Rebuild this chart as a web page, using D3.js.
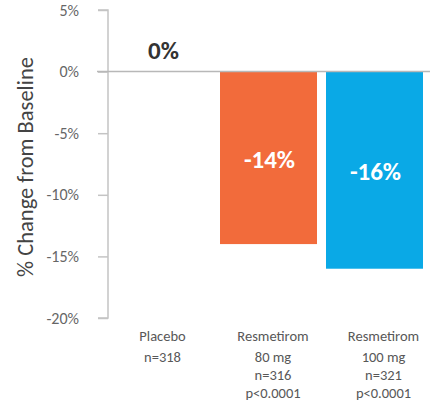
<!DOCTYPE html>
<html>
<head>
<meta charset="utf-8">
<script src="https://cdn.jsdelivr.net/npm/d3@7"></script>
<style>
  html, body { margin: 0; padding: 0; background: #fff; }
  svg { display: block; font-family: Carlito, Lato, "Open Sans", sans-serif; }
</style>
</head>
<body>
<svg id="chart" width="437" height="412"></svg>
<script>
// Groups, their values (% change from baseline) and the lines printed under each bar
const groups = ["Placebo", "Resmetirom 80 mg", "Resmetirom 100 mg"];
const values = [0, -14, -16];
const valueLabels = ["0%", "-14%", "-16%"];
const barColors = ["#ffffff", "#f26b3b", "#0aa9e6"];
const groupLines = [
  ["Placebo", "n=318"],
  ["Resmetirom", "80 mg", "n=316", "p<0.0001"],
  ["Resmetirom", "100 mg", "n=321", "p<0.0001"]
];
const yTicks = [5, 0, -5, -10, -15, -20];
const yTitle = "% Change from Baseline";

const svg = d3.select("#chart");
const FONT = "Carlito, Lato, 'Open Sans', sans-serif";

const y = d3.scaleLinear().domain([5, -20]).range([10, 318]);
const x = d3.scaleBand().domain(groups).range([114, 423]).paddingInner(0.085).paddingOuter(0);
// Centres of the description text under the bars
const xLabel = d3.scalePoint().domain(groups).range([162.5, 383.5]);

// Vertical axis with ticks on the left
const axis = d3.axisLeft(y)
  .tickValues(yTicks)
  .tickSize(10)
  .tickPadding(19)
  .tickFormat(d => d + "%");

const gAxis = svg.append("g").attr("transform", "translate(108,0)").call(axis);
gAxis.select(".domain").attr("stroke", "#c4c4c4").attr("stroke-width", 1.5)
  .attr("d", "M-10,10H0V318H-10");
gAxis.selectAll(".tick line").attr("stroke", "#c4c4c4").attr("stroke-width", 1.5);
gAxis.selectAll(".tick text")
  .attr("fill", "#666666")
  .attr("font-size", 16)
  .attr("font-family", FONT);

// Bars
svg.append("g").selectAll("rect")
  .data(groups)
  .join("rect")
  .attr("x", d => x(d))
  .attr("width", x.bandwidth())
  .attr("y", (d, i) => y(Math.max(0, values[i])))
  .attr("height", (d, i) => Math.abs(y(values[i]) - y(0)))
  .attr("fill", (d, i) => barColors[i]);

// Zero baseline
svg.append("line")
  .attr("x1", 97).attr("x2", 430)
  .attr("y1", y(0)).attr("y2", y(0))
  .attr("stroke", "#b8b8b8").attr("stroke-width", 1.5);

// Value labels: above the baseline for a zero value, centred inside the bar otherwise
svg.append("g").selectAll("text")
  .data(groups)
  .join("text")
  .attr("x", d => x(d) + x.bandwidth() / 2 + 1)
  .attr("y", (d, i) => values[i] === 0 ? y(0) - 13 : (y(0) + y(values[i])) / 2 + 10)
  .attr("text-anchor", "middle")
  .attr("font-size", 25)
  .attr("font-weight", "bold")
  .attr("fill", (d, i) => values[i] === 0 ? "#333333" : "#ffffff")
  .text((d, i) => valueLabels[i]);

// Group descriptions below the axis
const lineYs = [[341, 362], [341, 362, 380, 398], [341, 362, 380, 398]];
groups.forEach((g, i) => {
  svg.append("g").selectAll("text")
    .data(groupLines[i])
    .join("text")
    .attr("x", xLabel(g))
    .attr("y", (d, j) => lineYs[i][j])
    .attr("text-anchor", "middle")
    .attr("font-size", 14.5)
    .attr("fill", "#585858")
    .text(d => d);
});

// Y axis title
svg.append("text")
  .attr("transform", "translate(33,167) rotate(-90)")
  .attr("text-anchor", "middle")
  .attr("font-size", 22.5)
  .attr("fill", "#444444")
  .text(yTitle);
</script>
</body>
</html>
